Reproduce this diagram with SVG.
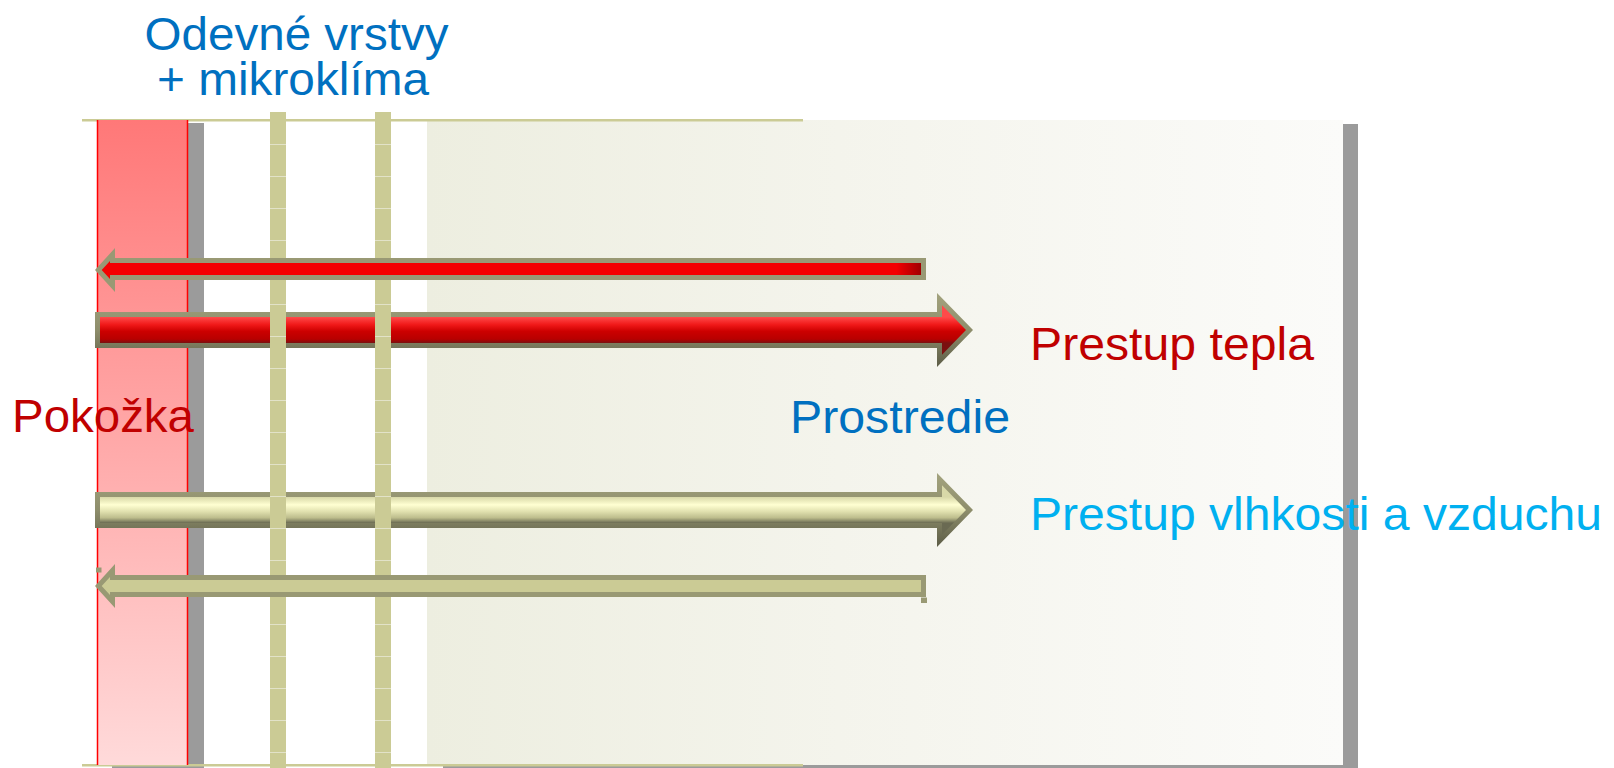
<svg xmlns="http://www.w3.org/2000/svg" width="1614" height="768" viewBox="0 0 1614 768">
<defs>
<style>
text{font-family:"Liberation Sans",Arial,sans-serif;font-size:47px}
.blue{fill:#0070c0}
.red{fill:#c00000}
.cyan{fill:#00b0f0}
.col{fill:#cbcb95}
.seam{stroke:#e2e2c8;stroke-width:1}
.shadow{fill:#9b9b9b}
</style>
<linearGradient id="envGrad" x1="0" y1="0" x2="1" y2="0">
<stop offset="0" stop-color="#edeee0"/>
<stop offset="0.45" stop-color="#f4f4ec"/>
<stop offset="1" stop-color="#fbfbf9"/>
</linearGradient>
<linearGradient id="skinGrad" x1="0" y1="0" x2="0" y2="1">
<stop offset="0" stop-color="#ff7878"/>
<stop offset="1" stop-color="#ffdada"/>
</linearGradient>
<linearGradient id="rimRed" gradientUnits="userSpaceOnUse" x1="0" y1="293" x2="0" y2="367">
<stop offset="0" stop-color="#a3a37e"/>
<stop offset="0.5" stop-color="#8e8e6c"/>
<stop offset="1" stop-color="#5c5c46"/>
</linearGradient>
<linearGradient id="rimYel" gradientUnits="userSpaceOnUse" x1="0" y1="473" x2="0" y2="547">
<stop offset="0" stop-color="#a3a37e"/>
<stop offset="0.5" stop-color="#8e8e6c"/>
<stop offset="1" stop-color="#5c5c46"/>
</linearGradient>
<linearGradient id="redBody" gradientUnits="userSpaceOnUse" x1="0" y1="317" x2="0" y2="343">
<stop offset="0" stop-color="#ff4a4a"/>
<stop offset="0.3" stop-color="#f01818"/>
<stop offset="0.55" stop-color="#cc0000"/>
<stop offset="0.85" stop-color="#b80000"/>
<stop offset="1" stop-color="#7a1010"/>
</linearGradient>
<linearGradient id="yelBody" gradientUnits="userSpaceOnUse" x1="0" y1="497" x2="0" y2="523">
<stop offset="0" stop-color="#d8d8a8"/>
<stop offset="0.3" stop-color="#ffffd2"/>
<stop offset="0.55" stop-color="#e2e2b0"/>
<stop offset="0.8" stop-color="#bdbd8c"/>
<stop offset="1" stop-color="#6a6a52"/>
</linearGradient>
<linearGradient id="thinRed" x1="0" y1="0" x2="1" y2="0">
<stop offset="0" stop-color="#f40000"/>
<stop offset="0.97" stop-color="#f40000"/>
<stop offset="1" stop-color="#a00000"/>
</linearGradient>
</defs>

<g id="background">
<rect class="shadow" x="443" y="765" width="915" height="3"/>
<rect class="shadow" x="1343" y="124" width="15" height="644"/>
<rect id="environment" x="427" y="120" width="916" height="645" fill="url(#envGrad)"/>
<rect class="shadow" x="112" y="765" width="92" height="3"/>
<rect class="shadow" x="188" y="123" width="16" height="645"/>
<rect x="82" y="119" width="721" height="2.5" fill="#cbcb95"/>
<rect x="82" y="764" width="721" height="2.5" fill="#cbcb95"/>
</g>

<g id="skin">
<rect x="97" y="120" width="91" height="645" fill="url(#skinGrad)"/>
<line x1="97.5" y1="120" x2="97.5" y2="765" stroke="#ff0000" stroke-width="1.5"/>
<line x1="187.5" y1="120" x2="187.5" y2="765" stroke="#ff0000" stroke-width="1.5"/>
</g>

<g id="connectors">
<g id="heat-out-arrow">
<polygon points="95,312 937,312 937,293 973,330 937,367 937,348 95,348" fill="url(#rimRed)"/>
<polygon points="100,317 942,317 942,305.3 966,330 942,354.7 942,343 100,343" fill="url(#redBody)"/>
</g>
<g id="moisture-out-arrow">
<polygon points="95,492 937,492 937,473 973,510 937,547 937,528 95,528" fill="url(#rimYel)"/>
<polygon points="100,497 942,497 942,485.3 966,510 942,534.7 942,523 100,523" fill="url(#yelBody)"/>
</g>
</g>

<g id="clothing-layers">
<rect class="col" x="270" y="112" width="16" height="656"/>
<rect class="col" x="375" y="112" width="16" height="656"/>
<g class="seam">
<path d="M270,144.5h16M270,176.5h16M270,208.5h16M270,240.5h16M270,272.5h16M270,304.5h16M270,336.5h16M270,368.5h16M270,400.5h16M270,432.5h16M270,464.5h16M270,496.5h16M270,528.5h16M270,560.5h16M270,592.5h16M270,624.5h16M270,656.5h16M270,688.5h16M270,720.5h16M270,752.5h16"/>
<path d="M375,144.5h16M375,176.5h16M375,208.5h16M375,240.5h16M375,272.5h16M375,304.5h16M375,336.5h16M375,368.5h16M375,400.5h16M375,432.5h16M375,464.5h16M375,496.5h16M375,528.5h16M375,560.5h16M375,592.5h16M375,624.5h16M375,656.5h16M375,688.5h16M375,720.5h16M375,752.5h16"/>
</g>
</g>

<g id="connectors-thin">
<g id="heat-in-arrow">
<polygon points="95,270 115,248 115,258 926,258 926,280 115,280 115,292" fill="#999974"/>
<polygon points="101.7,270 110,260.9 110,263 921,263 921,275 110,275 110,279.1" fill="url(#thinRed)"/>
</g>
<g id="moisture-in-arrow">
<polygon points="95,586 115,564 115,575 926,575 926,597 115,597 115,608" fill="#999974"/>
<polygon points="101.7,586 110,576.9 110,580 921,580 921,592 110,592 110,595.1" fill="#cbcb95"/>
<rect x="96" y="567.5" width="5.5" height="5" fill="#999974"/>
<rect x="921" y="597.5" width="6" height="5.5" fill="#999974"/>
</g>
</g>

<g id="labels">
<text class="blue" x="296.5" y="50" text-anchor="middle" textLength="304" lengthAdjust="spacingAndGlyphs">Odevné vrstvy</text>
<text class="blue" x="293" y="95" text-anchor="middle" textLength="272" lengthAdjust="spacingAndGlyphs">+ mikroklíma</text>
<text class="red" x="12" y="432" textLength="182" lengthAdjust="spacingAndGlyphs">Pokožka</text>
<text class="blue" x="790" y="433" textLength="220" lengthAdjust="spacingAndGlyphs">Prostredie</text>
<text class="red" x="1030" y="360" textLength="284" lengthAdjust="spacingAndGlyphs">Prestup tepla</text>
<text class="cyan" x="1030" y="530" textLength="572" lengthAdjust="spacingAndGlyphs">Prestup vlhkosti a vzduchu</text>
</g>
</svg>
